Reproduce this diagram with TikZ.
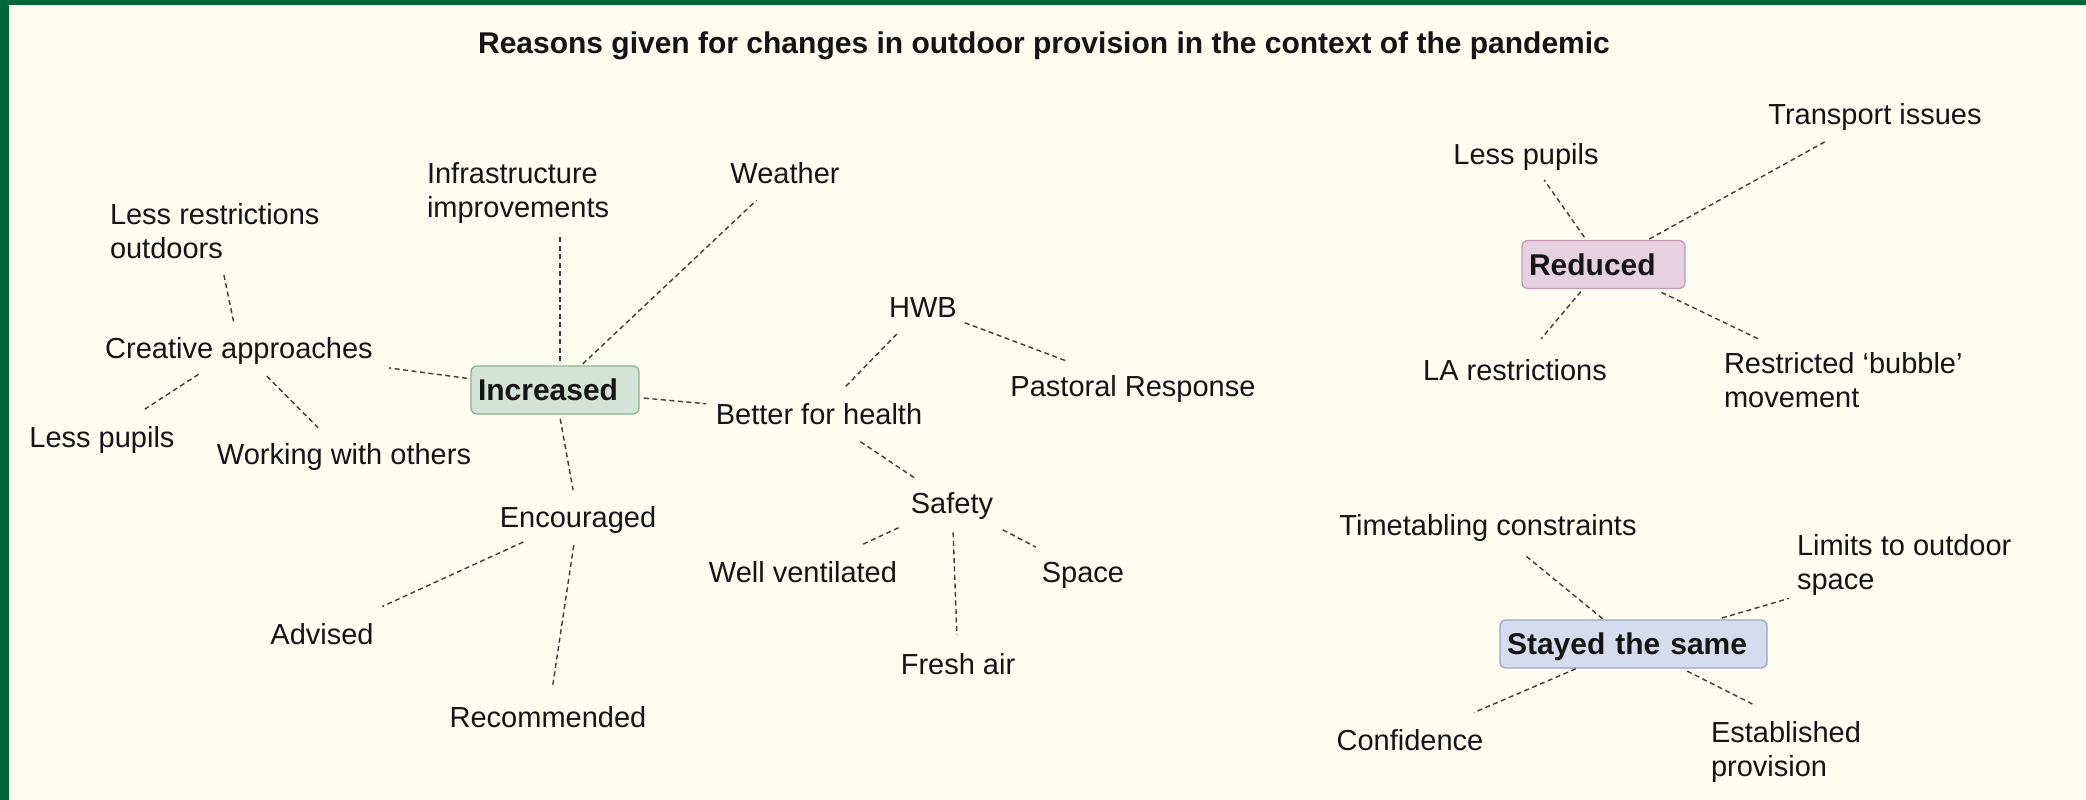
\documentclass[tikz,border=0pt]{standalone}
\usepackage{fontspec}
\setmainfont{Liberation Sans}
\definecolor{bg}{RGB}{255,252,240}
\definecolor{frame}{RGB}{0,104,56}
\definecolor{incfill}{RGB}{211,227,213}
\definecolor{incdraw}{RGB}{140,180,145}
\definecolor{redfill}{RGB}{230,209,223}
\definecolor{reddraw}{RGB}{195,155,180}
\definecolor{stayfill}{RGB}{213,220,237}
\definecolor{staydraw}{RGB}{150,165,200}
\definecolor{linkgray}{RGB}{60,60,60}
\definecolor{ink}{RGB}{20,20,20}
\begin{document}
\begin{tikzpicture}[x=1pt,y=-1pt,
  lbl/.style={inner sep=0pt, outer sep=0pt, text=ink,
    font=\fontsize{29}{34}\selectfont, text height=20.9pt, text depth=0pt},
  mlbl/.style={inner sep=0pt, outer sep=0pt, text=ink,
    font=\fontsize{29}{34}\selectfont, align=left, anchor=north west},
  tlbl/.style={inner sep=0pt, outer sep=0pt, text=ink,
    font=\fontsize{30}{36}\selectfont\bfseries, text height=21.6pt, text depth=0pt},
  hub/.style={rounded corners=6pt, line width=1.3pt, inner xsep=7pt, inner ysep=0pt,
    outer sep=0pt, minimum height=48pt, align=left, text=ink,
    font=\fontsize{30}{36}\selectfont\bfseries, text height=21.6pt, text depth=0pt},
  incbox/.style={hub, fill=incfill, draw=incdraw, text width=154pt},
  redbox/.style={hub, fill=redfill, draw=reddraw, text width=149pt},
  staybox/.style={hub, fill=stayfill, draw=staydraw, text width=253pt},
  link/.style={draw=linkgray, line width=1.4pt, dash pattern=on 5pt off 3.5pt}
]
% page, background and frame strips
\useasboundingbox (0,0) rectangle (2086,800);
\fill[bg] (0,0) rectangle (2086,800);
\fill[frame] (0,0) rectangle (2086,5);
\fill[frame] (0,0) rectangle (9,800);

% title
\node[tlbl] (title) at (1044,43) {Reasons given for changes in outdoor provision in the context of the pandemic};

% hubs
\node[incbox] (inc) at (555,390) {Increased};
\node[redbox] (red) at (1603.5,264.5) {Reduced};
\node[staybox] (stay) at (1633.5,644) {Stayed the same};

% increased branch
\node[lbl] (weather) at (785,173.5) {Weather};
\node[mlbl] (infra) at (427,163) {Infrastructure\\improvements};
\node[mlbl] (lessrestr) at (110,203) {Less restrictions\\outdoors};
\node[lbl] (creative) at (239,348) {Creative approaches};
\node[lbl] (lpL) at (102,437) {Less pupils};
\node[lbl] (working) at (344,454) {Working with others};
\node[lbl] (bfh) at (819,414) {Better for health};
\node[lbl] (hwb) at (923,307) {HWB};
\node[lbl] (pastoral) at (1133,386) {Pastoral Response};
\node[lbl] (safety) at (952,503) {Safety};
\node[lbl] (wv) at (803,572) {Well ventilated};
\node[lbl] (space) at (1083,572) {Space};
\node[lbl] (fresh) at (958,664) {Fresh air};
\node[lbl] (enc) at (578,517) {Encouraged};
\node[lbl] (advised) at (322,634) {Advised};
\node[lbl] (rec) at (548,717) {Recommended};

% reduced branch
\node[lbl] (lpR) at (1526,154) {Less pupils};
\node[lbl] (transport) at (1875,114) {Transport issues};
\node[lbl] (la) at (1515,370) {LA restrictions};
\node[mlbl] (restricted) at (1724,352) {Restricted ‘bubble’\\movement};

% stayed the same branch
\node[lbl] (timetabling) at (1488,525) {Timetabling constraints};
\node[mlbl] (limits) at (1797,534) {Limits to outdoor\\space};
\node[lbl] (confidence) at (1410,740) {Confidence};
\node[mlbl] (est) at (1711,721) {Established\\provision};

% connectors: increased
\draw[link, shorten <=5pt, shorten >=12pt] ([xshift=5pt]inc.north) -- ([xshift=5pt]inc.north |- infra.south);
\draw[link, shorten <=3pt, shorten >=24pt] (inc) -- (weather);
\draw[link, shorten <=4pt, shorten >=72pt] (inc) -- (creative);
\draw[link, shorten <=5pt, shorten >=10pt] (inc) -- (bfh);
\draw[link, shorten <=5pt, shorten >=17pt] (inc) -- (enc);
\draw[link, shorten <=17pt, shorten >=16pt] (lessrestr) -- (creative);
\draw[link, shorten <=29pt, shorten >=32pt] (creative) -- (lpL);
\draw[link, shorten <=25pt, shorten >=22pt] (creative) -- (working);
\draw[link, shorten <=35pt, shorten >=41pt] (enc) -- (advised);
\draw[link, shorten <=18pt, shorten >=20pt] (enc) -- (rec);
\draw[link, shorten <=24pt, shorten >=21pt] (bfh) -- (hwb);
\draw[link, shorten <=15pt, shorten >=41pt] (hwb) -- (pastoral);
\draw[link, shorten <=31pt, shorten >=26pt] (bfh) -- (safety);
\draw[link, shorten <=34pt, shorten >=38pt] (safety) -- (wv);
\draw[link, shorten <=19pt, shorten >=19pt] (safety) -- (fresh);
\draw[link, shorten <=35pt, shorten >=31pt] (safety) -- (space);

% connectors: reduced
\draw[link, shorten <=4pt, shorten >=19pt] (red) -- (lpR);
\draw[link, shorten <=3pt, shorten >=35pt] (red) -- (transport);
\draw[link, shorten <=4pt, shorten >=27pt] (red) -- (la);
\draw[link, shorten <=9pt, shorten >=30pt] (red) -- (restricted);

% connectors: stayed the same
\draw[link, shorten <=2pt, shorten >=33pt] (stay) -- (timetabling);
\draw[link, shorten <=7pt, shorten >=12pt] (stay) -- (limits);
\draw[link, shorten <=2pt, shorten >=43pt] (stay) -- (confidence);
\draw[link, shorten <=7pt, shorten >=34pt] (stay) -- (est.north);
\end{tikzpicture}
\end{document}
